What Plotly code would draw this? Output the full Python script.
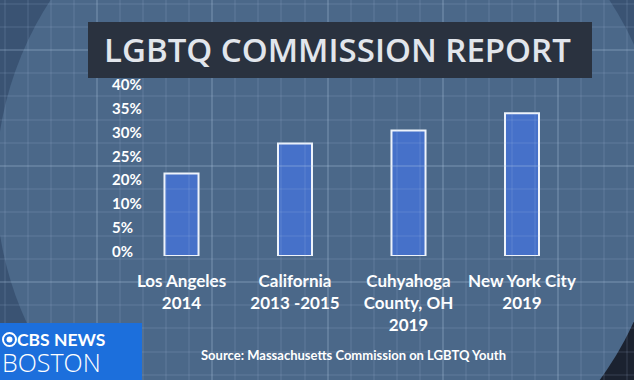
import plotly.graph_objects as go

# ---- data ----
categories = ["Los Angeles<br>2014", "California<br>2013 -2015",
              "Cuhyahoga<br>County, OH<br>2019", "New York City<br>2019"]
# bar heights in axis units (one label step = 5 units)
values = [17.3, 23.6, 26.3, 29.9]
tick_vals = [0, 5, 10, 15, 20, 25, 30, 35]
tick_text = ["0%", "5%", "10%", "20%", "25%", "30%", "35%", "40%"]
title_text = "LGBTQ COMMISSION REPORT"
source_text = "Source: Massachusetts Commission on LGBTQ Youth"

W, H = 634, 380
x0, x1 = 124.75, 578.75
y_zero, y_top = 256, 80

fig = go.Figure()
# dummy trace to activate background grid axes
fig.add_trace(go.Scatter(x=[None], y=[None], xaxis="x2", yaxis="y2",
                         hoverinfo="skip", showlegend=False))
fig.add_trace(go.Bar(
    x=categories, y=values,
    marker=dict(color="#4671c9", line=dict(color="#eef3fb", width=2)),
    width=0.30,
))

fig.update_layout(
    width=W, height=H,
    margin=dict(l=0, r=0, t=0, b=0),
    paper_bgcolor="#1b2230",
    plot_bgcolor="rgba(0,0,0,0)",
    showlegend=False,
    xaxis=dict(domain=[x0 / W, x1 / W], range=[-0.5, 3.5],
               showgrid=False, zeroline=False, showline=False,
               ticks="", ticklabelstandoff=13,
               tickfont=dict(family="Lato", size=17, color="#ffffff", weight="bold")),
    yaxis=dict(domain=[(H - y_zero) / H, (H - y_top) / H],
               range=[0, (y_zero - y_top) / 4.771],
               showgrid=False, zeroline=False, showline=False,
               showticklabels=False),
    xaxis2=dict(domain=[0, 1], range=[0, W], anchor="y2",
                showgrid=True, gridcolor="rgba(190,215,240,0.20)", gridwidth=1.5,
                tick0=97, dtick=115.3, showticklabels=False, zeroline=False,
                minor=dict(showgrid=True, gridcolor="rgba(190,215,240,0.09)",
                           tick0=97, dtick=23.06)),
    yaxis2=dict(domain=[0, 1], range=[H, 0], anchor="x2",
                showgrid=True, gridcolor="rgba(190,215,240,0.20)", gridwidth=1.5,
                tick0=50, dtick=116, showticklabels=False, zeroline=False,
                minor=dict(showgrid=True, gridcolor="rgba(190,215,240,0.09)",
                           tick0=50, dtick=23.2)),
)

def circle(cx, cy, r, color):
    fig.add_shape(type="circle", xref="paper", yref="paper", layer="below",
                  x0=(cx - r) / W, x1=(cx + r) / W,
                  y0=(H - (cy + r)) / H, y1=(H - (cy - r)) / H,
                  fillcolor=color, line=dict(width=0))

# backdrop: outer ring and big circle
circle(200, 120, 470, "#3a5373")
circle(330, 183, 334, "#4b6889")

# title box
fig.add_shape(type="rect", xref="paper", yref="paper", layer="above",
              x0=88 / W, x1=592 / W, y0=(H - 78) / H, y1=(H - 22) / H,
              fillcolor="#2a323f", line=dict(width=0))
fig.add_annotation(text=title_text, xref="paper", yref="paper",
                   x=337 / W, y=(H - 50) / H, xanchor="center", yanchor="middle",
                   showarrow=False,
                   font=dict(family="Open Sans", size=33, color="#e2e6ec", weight=600))

# y tick labels (left aligned)
for v, t in zip(tick_vals, tick_text):
    fig.add_annotation(text=t, xref="paper", yref="y", x=110 / W, y=v,
                       xanchor="left", yanchor="middle", yshift=5, showarrow=False,
                       font=dict(family="Lato", size=15, color="#ffffff", weight="bold"))

# source
fig.add_annotation(text=source_text, xref="paper", yref="paper",
                   x=353 / W, y=(H - 355) / H, xanchor="center", yanchor="middle",
                   showarrow=False,
                   font=dict(family="Lato", size=13, color="#ffffff", weight="bold"))

# CBS logo box
fig.add_shape(type="rect", xref="paper", yref="paper", layer="above",
              x0=0, x1=142 / W, y0=0, y1=(H - 323) / H,
              fillcolor="#1c6fdc", line=dict(width=0))
fig.add_shape(type="circle", xref="paper", yref="paper", layer="above",
              x0=3 / W, x1=16 / W, y0=(H - 346) / H, y1=(H - 333) / H,
              fillcolor="rgba(0,0,0,0)", line=dict(color="white", width=2))
fig.add_shape(type="circle", xref="paper", yref="paper", layer="above",
              x0=6.5 / W, x1=12.5 / W, y0=(H - 342.5) / H, y1=(H - 336.5) / H,
              fillcolor="white", line=dict(width=0))
fig.add_annotation(text="CBS NEWS", xref="paper", yref="paper",
                   x=16 / W, y=(H - 339.5) / H, xanchor="left", yanchor="middle",
                   showarrow=False, borderpad=0,
                   font=dict(family="Lato", size=17.5, color="#ffffff", weight="bold"))
fig.add_annotation(text="BOSTON", xref="paper", yref="paper",
                   x=1 / W, y=(H - 362) / H, xanchor="left", yanchor="middle",
                   showarrow=False, borderpad=0,
                   font=dict(family="Open Sans", size=25, color="#ffffff", weight=300))

fig.write_html("out.html",
               config={"displayModeBar": False},
               post_script="document.body.style.margin='0';document.body.style.overflow='hidden';")
